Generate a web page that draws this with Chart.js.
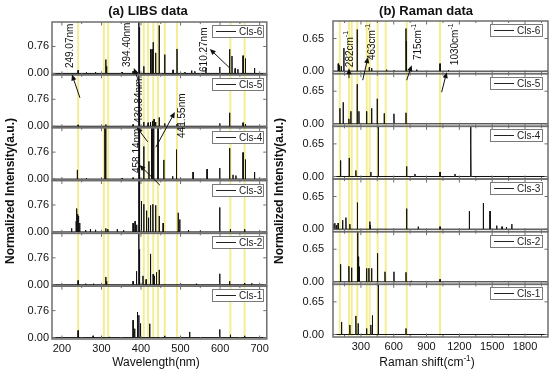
<!DOCTYPE html>
<html>
<head>
<meta charset="utf-8">
<script src="https://cdn.jsdelivr.net/npm/chart.js@4.4.1/dist/chart.umd.min.js"></script>
<style>
  html, body { margin: 0; padding: 0; background: #fff; overflow: hidden; }
  #wrap { position: relative; width: 550px; height: 372px; background: #fff; }
  #libsBox { position: absolute; left: 0; top: 0; width: 272px; height: 372px; }
  #ramanBox { position: absolute; left: 272px; top: 0; width: 278px; height: 372px; }
</style>
</head>
<body>
<div id="wrap">
  <div id="libsBox"><canvas id="libsChart"></canvas></div>
  <div id="ramanBox"><canvas id="ramanChart"></canvas></div>
</div>
<script>
// panels, top to bottom
const classes = ['Cls-6', 'Cls-5', 'Cls-4', 'Cls-3', 'Cls-2', 'Cls-1'];

// ---- LIBS: [wavelength nm, normalized intensity] ----
const libsXTicks = [200, 300, 400, 500, 600, 700];
const libsXMinor = [250, 350, 450, 550, 650];
const libsYTicks = [0, 0.76];
const libsLines = [241, 306, 317, 407, 418, 431, 443, 460, 491, 626, 662];

const libsCls6 = [[241, 0.09], [262, 0.03], [285, 0.04], [311, 0.39], [313, 0.2], [352, 0.04], [380, 0.06],
  [394.4, 1.6], [396.2, 1.3], [407, 0.2], [424, 0.68], [428, 0.68], [430.8, 0.88], [437, 0.58], [446, 1.35],
  [460, 0.53], [481, 0.1], [491, 0.69], [511, 0.04], [528, 0.08], [536, 0.06], [564, 0.15], [599, 0.18],
  [624, 0.68], [630, 0.49], [638, 0.14], [645, 0.12], [658, 0.5], [664, 0.42], [687, 0.15]];
const libsCls5 = [[241, 0.04], [311, 0.05], [380, 0.05], [394.4, 1.6], [396.2, 1.2], [407, 0.12], [418, 0.1],
  [424, 0.12], [429, 0.15], [433, 0.2], [437, 0.12], [446, 0.25], [460, 0.08], [491, 0.06], [599, 0.08],
  [624, 0.38], [658, 0.1], [664, 0.06]];
const libsCls4 = [[239, 0.26], [262, 0.03], [308.6, 1.6], [311, 1.6], [352, 0.03], [380, 0.04], [394.4, 1.6],
  [396.2, 1.6], [407, 0.92], [420, 0.5], [426.5, 1.6], [428, 1.6], [432, 1.6], [443, 1.44], [457.6, 0.54],
  [480, 0.08], [489.6, 0.83], [531.6, 0.2], [567, 0.28], [599, 0.31], [624, 0.87], [632.6, 0.12], [640, 0.1],
  [658, 0.75], [664, 0.55], [687, 0.2]];
const libsCls3 = [[224.5, 0.1], [236, 0.3], [238, 0.66], [240, 0.5], [242, 0.45], [245, 0.25], [260, 0.05],
  [272, 0.08], [285, 0.06], [300, 0.05], [311, 0.1], [316, 0.08], [340, 0.08], [356, 0.05], [380, 0.25],
  [385, 0.3], [389, 0.2], [394.4, 1.6], [396.2, 1.6], [401, 0.87], [407, 0.78], [414, 0.6], [419, 0.4],
  [424, 0.75], [430, 0.78], [437, 0.75], [446, 0.45], [456, 0.25], [494, 0.54], [498, 0.35], [520, 0.05],
  [550, 0.04], [599, 0.69], [626, 0.08], [662, 0.08]];
const libsCls2 = [[241, 0.12], [260, 0.03], [280, 0.03], [311, 0.22], [313, 0.1], [380, 0.1], [388.6, 0.38],
  [394.4, 1.6], [396.2, 1.0], [405, 0.25], [413, 0.15], [424, 0.87], [430.5, 0.3], [433, 0.25], [439, 0.35],
  [446, 0.42], [500, 0.03], [540, 0.03], [599, 0.31], [624, 0.1], [662, 0.05], [680, 0.04]];
const libsCls1 = [[241, 0.2], [279, 0.05], [300, 0.03], [320, 0.02], [380, 0.49], [384, 0.25], [391, 0.72],
  [394.4, 0.63], [398.7, 0.4], [422, 0.39], [460, 0.05], [523, 0.16], [599, 0.23], [626, 0.08], [662, 0.05]];

// ---- Raman: [shift cm-1, normalized intensity] ----
const ramanXTicks = [300, 600, 900, 1200, 1500, 1800];
const ramanXMinor = [150, 450, 750, 1050, 1350, 1650, 1950];
const ramanYTicks = [0, 0.65];
const ramanLines = [107, 191, 216, 267, 353, 380, 453, 527, 719, 1023];

const ramanCls6 = [[92, 0.15], [100, 0.12], [120, 0.1], [144, 0.46], [266, 0.83], [376, 0.08], [398, 0.06],
  [535, 0.03], [600, 0.02], [712, 0.85], [716, 0.6], [810, 0.03], [1023, 0.15], [1100, 0.02]];
const ramanCls5 = [[108, 0.31], [138, 0.43], [190, 0.1], [208, 0.25], [266, 0.79], [282, 0.25], [352, 0.25],
  [398, 0.31], [449, 0.5], [513, 0.21], [602, 0.2], [712, 0.22]];
const ramanCls4 = [[114, 0.32], [193, 0.37], [254, 0.12], [391, 0.09], [458, 1.1], [460, 0.7], [718, 0.2],
  [794, 0.05], [1023, 0.09], [1160, 0.05], [1303, 1.1], [1305, 0.62]];
const ramanCls3 = [[50, 0.1], [62, 0.12], [75, 0.08], [92, 0.12], [133, 0.18], [163, 0.23], [199, 0.1],
  [266, 0.53], [270, 0.4], [382, 0.15], [386, 0.08], [718, 0.41], [824, 0.05], [1023, 0.05], [1291, 0.36],
  [1419, 0.52], [1480, 0.36], [1541, 0.07], [1590, 0.05], [1630, 0.04], [1679, 0.1]];
const ramanCls2 = [[114, 0.35], [190, 0.31], [215, 0.28], [270, 1.1], [274, 0.5], [284, 0.3], [352, 0.27],
  [373, 0.27], [398, 0.27], [449, 0.57], [454, 0.42], [520, 0.2], [602, 0.2], [712, 0.19], [760, 0.02],
  [1023, 0.05]];
const ramanCls1 = [[123, 0.25], [199, 0.19], [254, 0.37], [275, 0.22], [352, 0.12], [391, 0.19], [405, 0.38],
  [458, 1.1], [460, 0.6], [712, 0.12]];

// annotations: x value, panel index, y value (bottom of the rotated text)
const libsNotes = [
  { text: '249.07nm', x: 220.5, panel: 0, y: 0.15 },
  { text: '394.40nm', x: 364.4, panel: 0, y: 0.18 },
  { text: '610.27nm', x: 558.8, panel: 0, y: 0.04 },
  { text: '430.84nm', x: 395.2, panel: 1, y: 0.09 },
  { text: '441.55nm', x: 503.3, panel: 1, y: -0.33 },
  { text: '458.14nm', x: 391, panel: 2, y: 0.17 }
];
const libsArrows = [
  { from: [245.7, 1, 0.80], to: [225.5, 0, -0.03] },
  { from: [394.7, 1, 1.25], to: [382, 0, 0.15] },
  { from: [624.5, 0, 0.15], to: [574, 0, 0.69] },
  { from: [417, 2, 1.05], to: [389.6, 1, -0.03] },
  { from: [437.6, 2, 0.90], to: [485.6, 1, 0.40] },
  { from: [447.7, 3, 1.32], to: [396, 2, 0.40] }
];
const ramanNotes = [
  { text: '282cm', sup: '-1', x: 200, panel: 0, y: 0.08 },
  { text: '463cm', sup: '-1', x: 401.5, panel: 0, y: 0.22 },
  { text: '715cm', sup: '-1', x: 822, panel: 0, y: 0.22 },
  { text: '1030cm', sup: '-1', x: 1160, panel: 0, y: 0.12 }
];
const ramanArrows = [
  { from: [191, 1, 0.91], to: [191, 0, 0.06] },
  { from: [316.5, 1, 0.87], to: [365, 0, 0.28] },
  { from: [718.6, 1, 0.87], to: [764, 0, 0.12] },
  { from: [1038, 1, 0.63], to: [1084, 0, -0.02] }
];

const FONT = "'Liberation Sans', Arial, sans-serif";
Chart.defaults.font.family = FONT;
Chart.defaults.color = '#111';

// stick spectrum from a peak list
function stick(peaks, xmin, xmax, half) {
  const pts = [{ x: xmin, y: 0 }];
  peaks.slice().sort((a, b) => a[0] - b[0]).forEach(([x, h]) => {
    pts.push({ x: x - half, y: 0 }, { x: x, y: h }, { x: x + half, y: 0 });
  });
  pts.push({ x: xmax, y: 0 });
  return pts;
}

// text made of pieces, superscripts raised; drawn in current transform
function drawPieces(ctx, pieces, x, y, size, bold) {
  const w = bold ? 'bold ' : '';
  let cx = x;
  pieces.forEach(p => {
    const s = p.sup ? size * 0.68 : size;
    ctx.font = w + s + 'px ' + FONT;
    ctx.fillText(p.t, cx, p.sup ? y - size * 0.38 : y);
    cx += ctx.measureText(p.t).width;
  });
}
function piecesWidth(ctx, pieces, size, bold) {
  const w = bold ? 'bold ' : '';
  let total = 0;
  pieces.forEach(p => {
    ctx.font = w + (p.sup ? size * 0.68 : size) + 'px ' + FONT;
    total += ctx.measureText(p.t).width;
  });
  return total;
}

function makeDecor(cfg) {
  const pt = (chart, xv, panel, yv) => [
    chart.scales.x.getPixelForValue(xv),
    chart.scales[cfg.ids[panel]].getPixelForValue(yv)
  ];
  return {
    id: 'decor',
    beforeDatasetsDraw(chart) {
      const { ctx, chartArea } = chart;
      const xs = chart.scales.x;
      ctx.save();
      ctx.strokeStyle = 'rgba(240, 234, 120, 0.8)';
      ctx.lineWidth = 2;
      cfg.lines.forEach(v => {
        const px = xs.getPixelForValue(v);
        ctx.beginPath();
        ctx.moveTo(px, chartArea.top);
        ctx.lineTo(px, chartArea.bottom);
        ctx.stroke();
      });
      ctx.restore();
    },
    beforeDatasetDraw(chart, args) {
      const ys = args.meta.yScale, xs = args.meta.xScale;
      chart.ctx.save();
      chart.ctx.beginPath();
      chart.ctx.rect(xs.left, ys.top, xs.right - xs.left, ys.bottom - ys.top);
      chart.ctx.clip();
    },
    afterDatasetDraw(chart) {
      chart.ctx.restore();
    },
    afterDatasetsDraw(chart) {
      const { ctx } = chart;
      const xs = chart.scales.x;
      ctx.save();
      // panel frames and inward ticks
      cfg.ids.forEach(id => {
        const ys = chart.scales[id];
        ctx.strokeStyle = '#6e6e6e';
        ctx.lineWidth = 1.5;
        ctx.strokeRect(xs.left, ys.top, xs.right - xs.left, ys.bottom - ys.top);
        ctx.lineWidth = 1;
        ctx.beginPath();
        const tick = (v, len) => {
          const px = xs.getPixelForValue(v);
          ctx.moveTo(px, ys.top); ctx.lineTo(px, ys.top + len);
          ctx.moveTo(px, ys.bottom); ctx.lineTo(px, ys.bottom - len);
        };
        cfg.xTicks.forEach(v => tick(v, 3.5));
        cfg.xMinor.forEach(v => tick(v, 2));
        cfg.yTicks.forEach(v => {
          const py = ys.getPixelForValue(v);
          ctx.moveTo(xs.left, py); ctx.lineTo(xs.left + 3.5, py);
          ctx.moveTo(xs.right, py); ctx.lineTo(xs.right - 3.5, py);
        });
        ctx.stroke();
      });
      // legends
      cfg.ids.forEach((id, i) => {
        const ys = chart.scales[id];
        const bx = Math.round(xs.right - cfg.legendRight - cfg.legendW);
        const by = Math.round(ys.top + 3);
        ctx.fillStyle = '#fff';
        ctx.fillRect(bx, by, cfg.legendW, 12);
        ctx.strokeStyle = '#7a7a7a';
        ctx.lineWidth = 1;
        ctx.strokeRect(bx + 0.5, by + 0.5, cfg.legendW, 12);
        ctx.strokeStyle = '#222';
        ctx.beginPath();
        ctx.moveTo(bx + 4, by + 6.5);
        ctx.lineTo(bx + 24, by + 6.5);
        ctx.stroke();
        ctx.fillStyle = '#222';
        ctx.font = '10px ' + FONT;
        ctx.textAlign = 'left';
        ctx.textBaseline = 'middle';
        ctx.fillText(classes[i], bx + 27, by + 7);
      });
      // arrows
      ctx.strokeStyle = '#111';
      ctx.fillStyle = '#111';
      ctx.lineWidth = 1;
      cfg.arrows.forEach(a => {
        const [x0, y0] = pt(chart, ...a.from);
        const [x1, y1] = pt(chart, ...a.to);
        const ang = Math.atan2(y1 - y0, x1 - x0);
        ctx.beginPath();
        ctx.moveTo(x0, y0);
        ctx.lineTo(x1 - 4 * Math.cos(ang), y1 - 4 * Math.sin(ang));
        ctx.stroke();
        ctx.beginPath();
        ctx.moveTo(x1, y1);
        ctx.lineTo(x1 - 6 * Math.cos(ang) + 2.6 * Math.sin(ang), y1 - 6 * Math.sin(ang) - 2.6 * Math.cos(ang));
        ctx.lineTo(x1 - 6 * Math.cos(ang) - 2.6 * Math.sin(ang), y1 - 6 * Math.sin(ang) + 2.6 * Math.cos(ang));
        ctx.closePath();
        ctx.fill();
      });
      // rotated annotation labels
      cfg.notes.forEach(n => {
        const [px, py] = pt(chart, n.x, n.panel, n.y);
        ctx.save();
        ctx.translate(px, py);
        ctx.rotate(-Math.PI / 2);
        ctx.textAlign = 'left';
        ctx.textBaseline = 'middle';
        ctx.fillStyle = '#111';
        const pieces = [{ t: n.text }];
        if (n.sup) pieces.push({ t: n.sup, sup: true });
        drawPieces(ctx, pieces, 0, 0, 10, false);
        ctx.restore();
      });
      ctx.restore();
    },
    afterDraw(chart) {
      const { ctx } = chart;
      ctx.save();
      ctx.fillStyle = '#111';
      ctx.textBaseline = 'middle';
      ctx.textAlign = 'center';
      ctx.font = 'bold 13px ' + FONT;
      ctx.fillText(cfg.title, cfg.titleX, 11);
      // x title
      ctx.textAlign = 'left';
      const w = piecesWidth(ctx, cfg.xTitle, 12, false);
      drawPieces(ctx, cfg.xTitle, cfg.xTitleX - w / 2, 363, 12, false);
      // y title
      ctx.translate(cfg.yTitleX, cfg.yTitleY);
      ctx.rotate(-Math.PI / 2);
      ctx.textAlign = 'center';
      ctx.font = 'bold 12px ' + FONT;
      ctx.fillText('Normalized Intensity(a.u.)', 0, 0);
      ctx.restore();
    }
  };
}

function buildChart(canvasId, o) {
  const ids = ['y6', 'y5', 'y4', 'y3', 'y2', 'y1'];
  const scales = {
    x: {
      type: 'linear', min: o.xmin, max: o.xmax,
      grid: { display: false, drawTicks: false },
      border: { display: false },
      afterBuildTicks: ax => { ax.ticks = o.xTicks.map(v => ({ value: v })); },
      afterFit: ax => { ax.height = o.xHeight; },
      ticks: { autoSkip: false, maxRotation: 0, padding: 3, font: { size: 11 }, color: '#111', callback: v => String(v) }
    }
  };
  ids.forEach((id, i) => {
    scales[id] = {
      type: 'linear', position: 'left', stack: o.stack, stackWeight: 1, offset: false,
      weight: 6 - i,
      min: o.ymin, max: o.ymax,
      grid: { display: false, drawTicks: false },
      border: { display: false },
      afterBuildTicks: ax => { ax.ticks = o.yTicks.map(v => ({ value: v })); },
      afterFit: ax => { ax.width = o.yWidth; },
      ticks: { autoSkip: false, padding: o.yPad, font: { size: 11 }, color: '#111', callback: v => v.toFixed(2) }
    };
  });
  const datasets = o.series.map((peaks, i) => ({
    data: stick(peaks, o.xmin, o.xmax, o.half),
    yAxisID: ids[i],
    borderColor: '#111',
    borderWidth: 1,
    pointRadius: 0,
    tension: 0,
    fill: false
  }));
  return new Chart(document.getElementById(canvasId), {
    type: 'line',
    data: { datasets },
    options: {
      responsive: true,
      maintainAspectRatio: false,
      animation: false,
      events: [],
      layout: { padding: o.padding },
      plugins: { legend: { display: false }, title: { display: false }, tooltip: { enabled: false } },
      scales
    },
    plugins: [makeDecor({
      ids, lines: o.lines, xTicks: o.xTicks, xMinor: o.xMinor, yTicks: o.yTicks,
      notes: o.notes, arrows: o.arrows, legendW: o.legendW, legendRight: o.legendRight,
      title: o.title, titleX: o.titleX, xTitle: o.xTitle, xTitleX: o.xTitleX,
      yTitleX: o.yTitleX, yTitleY: 191
    })]
  });
}

buildChart('libsChart', {
  stack: 'libs', xmin: 175, xmax: 718, ymin: -0.04, ymax: 1.45, half: 0.4,
  xTicks: libsXTicks, xMinor: libsXMinor, yTicks: libsYTicks, lines: libsLines,
  series: [libsCls6, libsCls5, libsCls4, libsCls3, libsCls2, libsCls1],
  notes: libsNotes, arrows: libsArrows,
  padding: { top: 22, right: 5, bottom: 0, left: 0 }, yWidth: 52, yPad: 3, xHeight: 33,
  legendW: 51, legendRight: 4,
  title: '(a) LIBS data', titleX: 148,
  xTitle: [{ t: 'Wavelength(nm)' }], xTitleX: 156, yTitleX: 11
});

buildChart('ramanChart', {
  stack: 'raman', xmin: 45, xmax: 2010, ymin: -0.05, ymax: 1.0, half: 1.5,
  xTicks: ramanXTicks, xMinor: ramanXMinor, yTicks: ramanYTicks, lines: ramanLines,
  series: [ramanCls6, ramanCls5, ramanCls4, ramanCls3, ramanCls2, ramanCls1],
  notes: ramanNotes, arrows: ramanArrows,
  padding: { top: 21, right: 2, bottom: 0, left: 0 }, yWidth: 61, yPad: 9, xHeight: 35,
  legendW: 52, legendRight: 6,
  title: '(b) Raman data', titleX: 154,
  xTitle: [{ t: 'Raman shift(cm' }, { t: '-1', sup: true }, { t: ')' }], xTitleX: 155, yTitleX: 8
});
</script>
</body>
</html>
